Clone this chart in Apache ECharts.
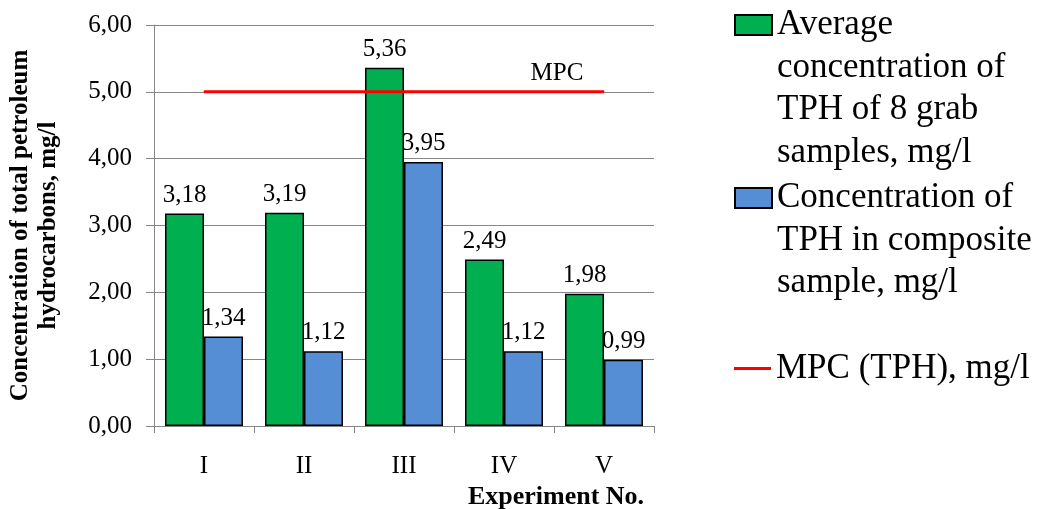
<!DOCTYPE html>
<html>
<head>
<meta charset="utf-8">
<script src="https://cdn.jsdelivr.net/npm/echarts@6/dist/echarts.min.js"></script>
<style>
  html, body { margin: 0; padding: 0; background: #fff; }
  #chart { width: 1037px; height: 509px; }
</style>
</head>
<body>
<div id="chart"></div>
<script>
const categories = ['I', 'II', 'III', 'IV', 'V'];
const avgGrab = [3.18, 3.19, 5.36, 2.49, 1.98];
const composite = [1.34, 1.12, 3.95, 1.12, 0.99];
const mpc = [5, 5, 5, 5, 5];
const yTicks = [0, 1, 2, 3, 4, 5, 6];

const legendLines = [
  ['Average', 'concentration of', 'TPH of 8 grab', 'samples, mg/l'],
  ['Concentration of', 'TPH in composite', 'sample, mg/l'],
  ['MPC (TPH), mg/l']
];
const seriesNames = legendLines.map(l => l.join(' '));

const FONT = '"Liberation Serif", "Times New Roman", serif';
const fmt = v => Number(v).toFixed(2).replace('.', ',');
const LH = 42.5;

// The legend text block is centred on its icon; leading blank lines put the
// first real line level with the icon, as in the reference.
function legendFor(idx, iconTop, iconH, extra) {
  const lines = legendLines[idx];
  const n = lines.length;
  const blanks = new Array(n - 1).fill(' ');
  const total = (2 * n - 1) * LH;
  return Object.assign({
    data: [seriesNames[idx]],
    formatter: () => blanks.concat(lines).join('\n'),
    left: 734,
    top: iconTop - (total / 2 - iconH / 2),
    padding: 0,
    itemWidth: 37,
    itemHeight: iconH,
    icon: 'rect',
    selectedMode: false,
    textStyle: { fontFamily: FONT, fontSize: 35, color: '#000', lineHeight: LH }
  }, extra || {});
}

const valueLabel = {
  show: true, position: 'top', distance: 6, formatter: p => fmt(p.value),
  fontFamily: FONT, fontSize: 25, color: '#000'
};

const chart = echarts.init(document.getElementById('chart'));
chart.setOption({
  animation: false,
  backgroundColor: '#fff',
  grid: { left: 154, right: 383, top: 25, bottom: 83, outerBoundsMode: 'none', containLabel: false },
  legend: [
    legendFor(0, 15, 20),
    legendFor(1, 188, 20),
    legendFor(2, 367, 3, { itemStyle: { borderWidth: 0 } })
  ],
  xAxis: {
    type: 'category',
    data: categories,
    boundaryGap: true,
    axisLine: { show: true, lineStyle: { color: '#868686', width: 1 } },
    axisTick: { show: true, length: 7, lineStyle: { color: '#868686' } },
    axisLabel: { fontFamily: FONT, fontSize: 25, color: '#000', margin: 28 },
    name: 'Experiment No.',
    nameLocation: 'middle',
    nameGap: 58,
    nameTextStyle: {
      fontFamily: FONT, fontSize: 26, fontWeight: 'bold', color: '#000',
      padding: [0, 0, 0, 304]
    }
  },
  yAxis: {
    type: 'value',
    min: yTicks[0],
    max: yTicks[yTicks.length - 1],
    interval: 1,
    axisLine: { show: true, lineStyle: { color: '#868686', width: 1 } },
    axisTick: { show: true, length: 8, inside: false, lineStyle: { color: '#868686' } },
    splitLine: { show: true, lineStyle: { color: '#868686', width: 1 } },
    axisLabel: { fontFamily: FONT, fontSize: 25, color: '#000', margin: 22, formatter: fmt },
    name: 'Concentration of total petroleum\nhydrocarbons, mg/l',
    nameLocation: 'middle',
    nameRotate: 90,
    nameGap: 91,
    nameTextStyle: {
      fontFamily: FONT, fontSize: 25, fontWeight: 'bold', color: '#000', lineHeight: 28
    }
  },
  series: [
    {
      name: seriesNames[0],
      type: 'bar',
      data: avgGrab,
      barGap: '0%',
      barCategoryGap: '22%',
      itemStyle: { color: '#00B050', borderColor: '#000', borderWidth: 1.5 },
      label: valueLabel
    },
    {
      name: seriesNames[1],
      type: 'bar',
      data: composite,
      itemStyle: { color: '#558ED5', borderColor: '#000', borderWidth: 1.5 },
      label: valueLabel
    },
    {
      name: seriesNames[2],
      type: 'line',
      data: mpc.map((v, i) => i === mpc.length - 1 ? {
        value: v,
        label: { show: true, position: 'top', offset: [-47, 0], formatter: 'MPC',
                 fontFamily: FONT, fontSize: 25, color: '#000' }
      } : v),
      showSymbol: true,
      symbol: 'rect',
      symbolSize: 1,
      lineStyle: { color: '#FF0000', width: 3 },
      itemStyle: { color: '#FF0000' },
      z: 5
    }
  ]
});
</script>
</body>
</html>
